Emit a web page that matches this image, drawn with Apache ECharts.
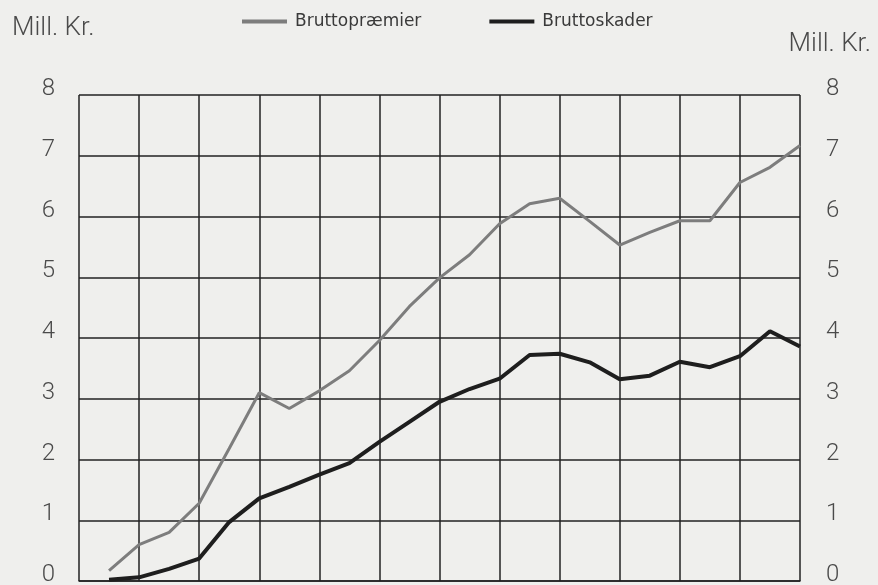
<!DOCTYPE html>
<html>
<head>
<meta charset="utf-8">
<script src="https://cdn.jsdelivr.net/npm/echarts@6/dist/echarts.min.js"></script>
<style>
html,body{margin:0;padding:0;background:#efefed;}
#chart{width:878px;height:585px;}
</style>
</head>
<body>
<div id="chart"></div>
<script>
// Periods (half-column steps along the x axis; unlabeled in original)
const periods = [1,2,3,4,5,6,7,8,9,10,11,12,13,14,15,16,17,18,19,20,21,22,23,24];
// Mill. Kr.
const bruttopraemier = [0.17,0.60,0.80,1.28,2.18,3.10,2.84,3.13,3.46,3.96,4.52,4.99,5.37,5.88,6.21,6.30,5.92,5.53,5.74,5.93,5.93,6.56,6.81,7.17];
const bruttoskader   = [0.02,0.06,0.20,0.37,0.97,1.36,1.55,1.75,1.94,2.29,2.62,2.95,3.16,3.33,3.72,3.74,3.60,3.32,3.38,3.61,3.52,3.70,4.11,3.86];
const yTicks = [0,1,2,3,4,5,6,7,8];
const unitLabel = 'Mill. Kr.';
const seriesNames = ['Bruttopræmier','Bruttoskader'];

const chart = echarts.init(document.getElementById('chart'));
const labelStyle = {
  show: true, color: '#4a4a4a', fontSize: 24, fontFamily: 'Roboto', fontWeight: 300,
  verticalAlign: 'bottom', lineHeight: 12,
  formatter: v => yTicks.includes(v) ? String(v) : ''
};
chart.setOption({
  backgroundColor: '#efefed',
  animation: false,
  title: [
    {text: unitLabel, left: 7, top: 10, textStyle: {fontSize: 26, fontFamily: 'Roboto', fontWeight: 300, color: '#4a4a4a'}},
    {text: unitLabel, right: 2, top: 26, textStyle: {fontSize: 26, fontFamily: 'Roboto', fontWeight: 300, color: '#4a4a4a'}}
  ],
  legend: {
    left: 237, top: 8, itemWidth: 45, itemHeight: 4, itemGap: 68, icon: 'rect',
    textStyle: {fontSize: 17, fontFamily: 'DejaVu Sans', color: '#3a3a3a', padding: [0,0,0,3]},
    data: seriesNames
  },
  grid: {left: 79, right: 78, top: 95, bottom: 4, outerBoundsMode: 'none', containLabel: false},
  xAxis: {
    type: 'value', min: 0, max: 24, interval: 2,
    axisLabel: {show: false}, axisTick: {show: false},
    axisLine: {show: true, lineStyle: {color: '#222', width: 1.5}},
    splitLine: {show: true, lineStyle: {color: '#222', width: 1.5}}
  },
  yAxis: [
    {type: 'value', min: 0, max: 8, interval: 1, position: 'left',
     axisLabel: Object.assign({margin: 24}, labelStyle),
     axisTick: {show: false}, axisLine: {show: false},
     splitLine: {show: true, lineStyle: {color: '#222', width: 1.5}}},
    {type: 'value', min: 0, max: 8, interval: 1, position: 'right',
     axisLabel: Object.assign({margin: 26}, labelStyle),
     axisTick: {show: false}, axisLine: {show: false},
     splitLine: {show: false}}
  ],
  series: [
    {name: seriesNames[0], type: 'line', symbol: 'none', color: '#7d7d7d',
     lineStyle: {width: 3, color: '#7d7d7d'},
     data: periods.map((p, i) => [p, bruttopraemier[i]])},
    {name: seriesNames[1], type: 'line', symbol: 'none', color: '#1e1e1e',
     lineStyle: {width: 4, color: '#1e1e1e'},
     data: periods.map((p, i) => [p, bruttoskader[i]])}
  ]
});
</script>
</body>
</html>
